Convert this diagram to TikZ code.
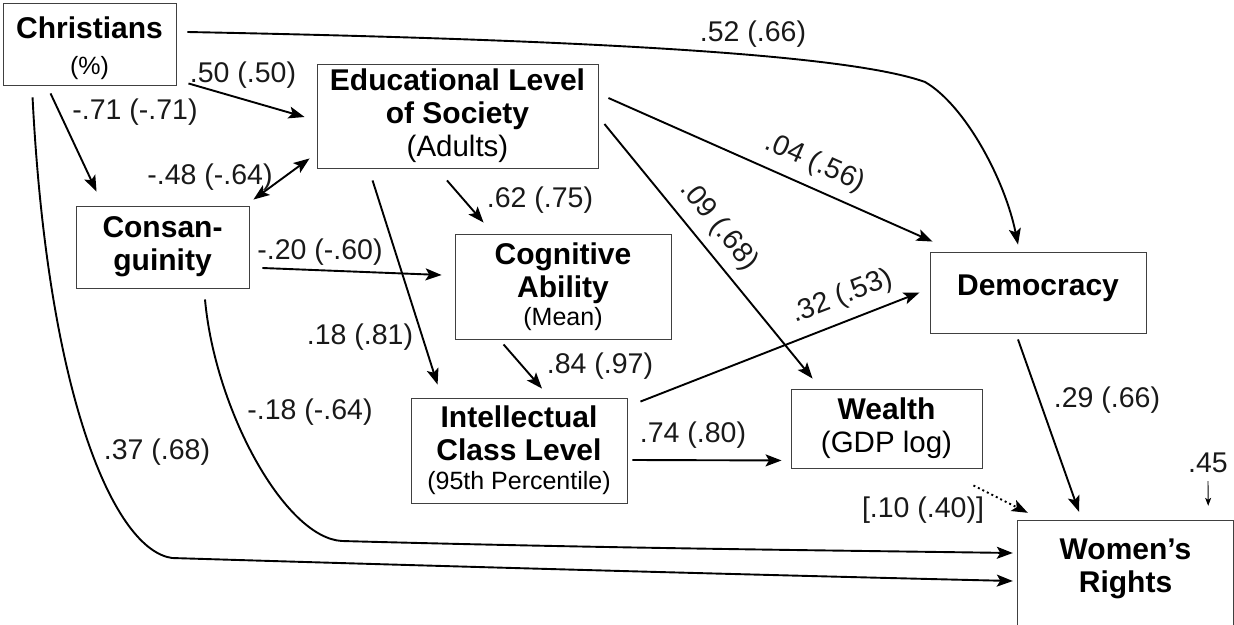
\documentclass[tikz,border=0pt]{standalone}
\usepackage{fontspec}
\setmainfont{Liberation Sans}
\usetikzlibrary{arrows.meta,calc}
\begin{document}
\begin{tikzpicture}[x=1pt,y=-1pt,
  box/.style={draw=black!75, line width=0.9pt, inner sep=0pt, align=center,
    font=\fontsize{30}{33}\selectfont\bfseries},
  nobox/.style={inner sep=0pt, align=center, font=\fontsize{30}{33}\selectfont\bfseries},
  lab/.style={font=\fontsize{28.5}{32}\selectfont, inner sep=0pt, text=black!90},
  conn/.style={line width=1.9pt, -{Stealth[length=16pt,width=12pt,inset=3.5pt]}},
  dconn/.style={line width=1.9pt, {Stealth[length=16pt,width=12pt,inset=3.5pt]}-{Stealth[length=16pt,width=12pt,inset=3.5pt]}},
  dotconn/.style={line width=1.9pt, dash pattern=on 2pt off 3pt, -{Stealth[length=16pt,width=12pt,inset=3.5pt]}},
  thinconn/.style={line width=0.9pt, -{Stealth[length=8pt,width=6pt,inset=2pt]}},
  boxline/.style={draw=black!75, line width=0.9pt},
]
\newcommand{\subf}[1]{\fontsize{#1}{33}\selectfont\mdseries}
\useasboundingbox (0,0) rectangle (1234,624);
\clip (0,0) rectangle (1234,624);

% boxes
\node[box, minimum width=173, minimum height=82, text height=68pt, text depth=7pt] (chr) at (89.5,44)
  {Christians\\[3pt]{\subf{25}(\%)}};
\node[box, minimum width=281, minimum height=104] (edu) at (457.5,116)
  {Educational Level\\of Society\\{\subf{29.5}(Adults)}};
\node[box, minimum width=173, minimum height=82] (con) at (162.5,247)
  {Consan-\\guinity};
\node[box, minimum width=216, minimum height=105] (cog) at (563,286.5)
  {Cognitive\\Ability\\[-5pt]{\subf{25}(Mean)}};
\node[box, minimum width=216, minimum height=105] (int) at (519,450.5)
  {Intellectual\\Class Level\\[-4pt]{\subf{25}(95th Percentile)}};
\node[box, minimum width=216, minimum height=81, text height=21pt, text depth=15pt] (dem) at (1038,292.5)
  {Democracy};
\node[box, minimum width=191, minimum height=79] (wea) at (886.5,428.5)
  {Wealth\\{\subf{29.5}(GDP log)}};
\node[nobox, minimum width=215, minimum height=96] (wr) at (1125.5,569)
  {Women’s\\Rights};
\draw[boxline] ($(wr.north west)+(0,150)$) -- (wr.north west) -- (wr.north east) -- ($(wr.north east)+(0,150)$);

% connectors
\draw[conn] ($(chr.east)+(11,-12)$) .. controls (600,40) and (850,55) .. (925,82)
  .. controls (965,105) and (1005,180) .. ($(dem.north)+(-20,-7)$);
\draw[conn] ($(chr.south east)+(12,-2)$) -- ($(edu.west)+(-12,1)$);
\draw[conn] ($(chr.south west)+(48,8)$) -- ($(con.north west)+(21,-14)$);
\draw[dconn] ($(con.north east)+(4,-6)$) -- ($(edu.south west)+(-7,-10)$);
\draw[conn] ($(chr.south west)+(30,12)$) .. controls (48,400) and (115,550) .. (172,558)
  .. controls (500,568) and (800,576) .. ($(wr.west)+(-5,12)$);
\draw[conn] ($(con.south)+(42.5,11)$) .. controls (215,410) and (285,538) .. (342,541)
  .. controls (600,548) and (800,550) .. ($(wr.west)+(-5,-16)$);
\draw[conn] ($(con.east)+(13,21)$) -- ($(cog.west)+(-13,-11.5)$);
\draw[conn] ($(edu.south west)+(56,12)$) -- ($(int.north west)+(27,-13)$);
\draw[conn] ($(edu.south)+(-10.5,12)$) -- ($(cog.north west)+(29,-11)$);
\draw[conn] ($(cog.south west)+(49,5)$) -- ($(int.north)+(23,-9)$);
\draw[conn] ($(edu.east)+(10,-18)$) -- ($(dem.north west)+(3,-10)$);
\draw[conn] ($(edu.east)+(6,8)$) -- ($(wea.north west)+(22,-10)$);
\draw[conn] ($(int.north east)+(13,4)$) -- ($(dem.west)+(-10,0)$);
\draw[conn] ($(int.east)+(5,9.5)$) -- ($(wea.south west)+(-9,-8)$);
\draw[conn] ($(dem.south)+(-20,6)$) -- ($(wr.north)+(-46.5,-9)$);
\draw[dotconn] ($(wea.south east)+(-9,17)$) -- ($(wr.north west)+(10,-8)$);

% labels
\node[lab] (l52) at (753,34) {.52 (.66)};
\node[lab] (l50) at (243,75) {.50 (.50)};
\node[lab] (l71) at (135,112) {-.71 (-.71)};
\node[lab] (l48) at (210,177) {-.48 (-.64)};
\node[lab] (l20) at (320,252) {-.20 (-.60)};
\node[lab] (l62) at (540,200) {.62 (.75)};
\node[lab] (l18) at (360,337) {.18 (.81)};
\node[lab] (l84) at (600,366) {.84 (.97)};
\node[lab] (l74) at (693,435) {.74 (.80)};
\node[lab, rotate=-24] (l04) at (815,163) {.04 (.56)};
\node[lab, rotate=-51] (l09) at (719,226) {.09 (.68)};
\node[lab, rotate=21] (l32) at (842,297) {.32 (.53)};
\node[lab] (l29) at (1107,400) {.29 (.66)};
\node[lab] (lm18) at (310,412) {-.18 (-.64)};
\node[lab] (l37) at (157,452) {.37 (.68)};
\node[lab] (l10) at (923,510) {[.10 (.40)]};
\node[lab] (l45) at (1208,463) {.45};
\draw[thinconn] ($(l45.south)+(0,8)$) -- ($(wr.north east)+(-25,-15)$);
\end{tikzpicture}
\end{document}
